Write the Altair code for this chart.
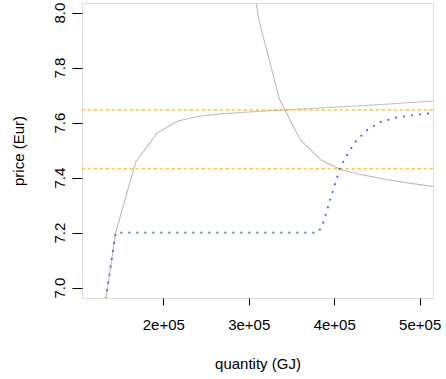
import altair as alt
import pandas as pd

# supply curve (grey, increasing)
supply_q = [130000, 144300, 167700, 192300, 216400, 240900, 265000, 290000, 340000, 400000, 460000, 516000]
supply_p = [6.90, 7.20, 7.456, 7.561, 7.605, 7.623, 7.631, 7.637, 7.646, 7.656, 7.667, 7.679]

# demand curve (grey, decreasing)
demand_q = [305000, 312300, 336000, 360500, 384800, 409000, 433500, 458000, 482000, 506000, 516000]
demand_p = [8.10, 7.967, 7.685, 7.537, 7.463, 7.428, 7.410, 7.395, 7.383, 7.372, 7.368]

# dotted blue curve
blue_q = [130000, 144300, 380100, 385300, 406700, 415700, 425700, 438600, 454600, 472500, 490900, 515400]
blue_p = [6.90, 7.20, 7.20, 7.218, 7.435, 7.487, 7.534, 7.573, 7.603, 7.618, 7.627, 7.635]

# horizontal reference prices (orange dashed)
ref_prices = [7.646, 7.432]

x_ticks = [200000, 300000, 400000, 500000]
y_ticks = [7.0, 7.2, 7.4, 7.6, 7.8, 8.0]

x_dom = [104900, 515600]
y_dom = [6.9625, 8.035]

sup = pd.DataFrame({"q": supply_q, "p": supply_p})
dem = pd.DataFrame({"q": demand_q, "p": demand_p})
blu = pd.DataFrame({"q": blue_q, "p": blue_p})
ref = pd.DataFrame({"p": ref_prices})

xs = alt.Scale(domain=x_dom, nice=False, zero=False)
ys = alt.Scale(domain=y_dom, nice=False, zero=False)

xax = alt.Axis(values=x_ticks, title="quantity (GJ)",
               labelExpr="replace(format(datum.value, '.0e'), 'e+5', 'e+05')",
               grid=False, domain=False, tickSize=7, tickColor="black",
               labelFontSize=15, labelColor="black", labelPadding=12,
               titleFontSize=15, titleFontWeight="normal", titleColor="black",
               titleBaseline="alphabetic", titleY=70)
yax = alt.Axis(values=y_ticks, title="price (Eur)", format=".1f",
               grid=False, domain=False, tickSize=10, tickColor="black",
               labelFontSize=15, labelColor="black", labelAngle=270,
               labelAlign="center", labelBaseline="bottom", labelPadding=5,
               titleFontSize=15, titleFontWeight="normal", titleColor="black",
               titleAngle=270, titleBaseline="alphabetic", titleAlign="center",
               titleX=-59, titleY=147.5)

supply_line = alt.Chart(sup).mark_line(color="#BEBEBE", strokeWidth=1.1, clip=True).encode(
    x=alt.X("q:Q", scale=xs, axis=xax),
    y=alt.Y("p:Q", scale=ys, axis=yax),
)
demand_line = alt.Chart(dem).mark_line(color="#BEBEBE", strokeWidth=1.1, clip=True).encode(
    x=alt.X("q:Q", scale=xs),
    y=alt.Y("p:Q", scale=ys),
)
ref_rules = alt.Chart(ref).mark_rule(color="#FFA500", strokeWidth=1.0, strokeDash=[3.5, 2.5], clip=True).encode(
    y=alt.Y("p:Q", scale=ys),
)
blue_line = alt.Chart(blu).mark_line(color="#4169E1", strokeWidth=1.8, strokeDash=[2, 6], clip=True).encode(
    x=alt.X("q:Q", scale=xs),
    y=alt.Y("p:Q", scale=ys),
)

chart = alt.layer(supply_line, demand_line, ref_rules, blue_line).properties(
    width=351, height=295,
    autosize=alt.AutoSizeParams(type="none"),
    padding={"left": 82, "top": 3, "right": 13, "bottom": 81},
    background="white",
).configure_view(stroke="black", strokeWidth=1).configure(font="Liberation Sans")

chart.save("out.html", embed_options={"renderer": "svg", "actions": False})
